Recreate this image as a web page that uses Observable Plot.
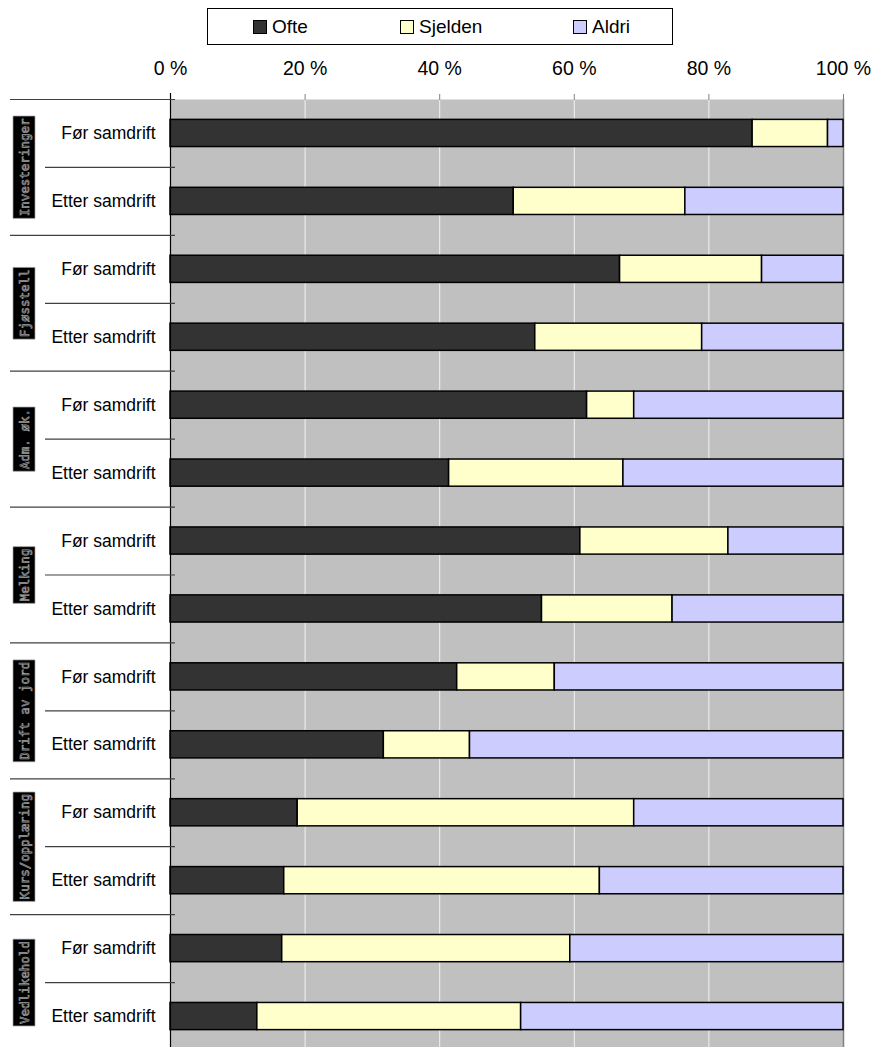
<!DOCTYPE html>
<html>
<head>
<meta charset="utf-8">
<script src="https://cdn.jsdelivr.net/npm/d3@7"></script>
<script src="https://cdn.jsdelivr.net/npm/@observablehq/plot@0.6"></script>
<style>
  html, body { margin: 0; padding: 0; background: #fff; overflow: hidden; }
  body { width: 878px; height: 1047px; position: relative; font-family: "Liberation Sans", Arial, sans-serif; }
  #legend { position: absolute; left: 207px; top: 8px; width: 466px; height: 37px; border: 1px solid #000; box-sizing: border-box; }
  .item { position: absolute; top: 0; height: 35px; display: flex; align-items: center; font-size: 19px; color: #000; }
  .sw { width: 12px; height: 12px; border: 1px solid #000; margin-right: 5px; }
  #chart { position: absolute; left: 0; top: 50px; }
  #chart svg { display: block; }
</style>
</head>
<body>
<div id="legend"></div>
<div id="chart"></div>
<script>
const categories = ["Investeringer", "Fjøsstell", "Adm. øk.", "Melking", "Drift av jord", "Kurs/opplæring", "Vedlikehold"];
const periods = ["Før samdrift", "Etter samdrift"];
const answers = ["Ofte", "Sjelden", "Aldri"];
const colors = ["#333333", "#ffffcc", "#ccccff"];
// values in %, order: category x period (Før, Etter)
const ofte    = [86.5, 51.0, 66.8, 54.2, 61.9, 41.4, 60.9, 55.2, 42.6, 31.7, 18.9, 16.9, 16.6, 12.9];
const sjelden = [11.2, 25.5, 21.1, 24.8,  7.0, 25.9, 22.0, 19.4, 14.5, 12.8, 50.0, 46.9, 42.8, 39.2];
const aldri   = [ 2.3, 23.5, 12.1, 21.0, 31.1, 32.7, 17.1, 25.4, 42.9, 55.5, 31.1, 36.2, 40.6, 47.9];
const xTicks = [0, 20, 40, 60, 80, 100];

const rows = [];
categories.forEach((c, ci) => periods.forEach((p, pi) => rows.push({key: c + "|" + p, cat: c, period: p, idx: ci * 2 + pi})));
const series = [ofte, sjelden, aldri];
const data = [];
rows.forEach(r => answers.forEach((a, ai) => data.push({key: r.key, answer: a, value: series[ai][r.idx]})));

// legend
const leg = document.getElementById("legend");
const legX = [45, 192, 365];
answers.forEach((a, i) => {
  const it = document.createElement("div");
  it.className = "item";
  it.style.left = legX[i] + "px";
  it.innerHTML = `<span class="sw" style="background:${colors[i]}"></span><span>${a}</span>`;
  leg.appendChild(it);
});

const W = 878, H = 1000, mt = 49, mb = 0;
const step = (H - mt - mb) / rows.length;

const plot = Plot.plot({
  width: W,
  height: H,
  marginTop: mt,
  marginBottom: mb,
  marginLeft: 170,
  marginRight: 35,
  style: {fontFamily: "Liberation Sans, Arial, sans-serif", background: "transparent", overflow: "visible"},
  x: {domain: [0, 100], axis: null},
  y: {domain: rows.map(r => r.key), paddingInner: 0.6, paddingOuter: 0.3, round: false, axis: null},
  color: {domain: answers, range: colors},
  marks: [
    Plot.frame({fill: "#c0c0c0", stroke: null}),
    Plot.gridX({ticks: [20, 40, 60, 80], stroke: "#f2f2f2", strokeOpacity: 1, strokeWidth: 1}),
    Plot.axisX({anchor: "top", ticks: xTicks, tickFormat: d => d + " %", tickSize: 6, tickPadding: 19, fontSize: 19.5, stroke: "#808080", label: null}),
    Plot.ruleX([100], {stroke: "#808080", strokeWidth: 1.5}),
    Plot.barX(data, Plot.stackX({x: "value", y: "key", fill: "answer", order: answers, stroke: "#000", strokeWidth: 1.5})),
    Plot.ruleX([0], {stroke: "#000", strokeWidth: 1.2, insetTop: -6}),
    Plot.axisY({tickFormat: k => k.split("|")[1], tickSize: 0, tickPadding: 15, fontSize: 17.5, label: null}),
    Plot.ruleY(categories, {y: c => c + "|Før samdrift", dy: -step / 2, insetLeft: -160, insetRight: 668, stroke: "#404040", strokeWidth: 1.2}),
    Plot.ruleY(categories, {y: c => c + "|Etter samdrift", dy: -step / 2, insetLeft: -125, insetRight: 668, stroke: "#404040", strokeWidth: 1.2}),
    Plot.text(categories, {y: c => c + "|Før samdrift", dy: step / 2, frameAnchor: "left", dx: -146, rotate: -90, textAnchor: "middle", text: d => d,
      fontFamily: "DejaVu Sans Mono", fontSize: 12.5, fill: "#000", stroke: "#a0a0a0", strokeWidth: 0.7, paintOrder: "normal"})
  ]
});
document.getElementById("chart").appendChild(plot);

// black backgrounds behind rotated category labels
plot.querySelectorAll('g[aria-label="text"] text').forEach(t => {
  const bb = t.getBBox();
  const r = document.createElementNS("http://www.w3.org/2000/svg", "rect");
  r.setAttribute("x", bb.x - 2);
  r.setAttribute("y", bb.y + bb.height / 2 - 11);
  r.setAttribute("width", bb.width + 4);
  r.setAttribute("height", 22);
  r.setAttribute("fill", "#000");
  const tr = t.getAttribute("transform");
  if (tr) r.setAttribute("transform", tr);
  t.parentNode.insertBefore(r, t);
});
</script>
</body>
</html>
